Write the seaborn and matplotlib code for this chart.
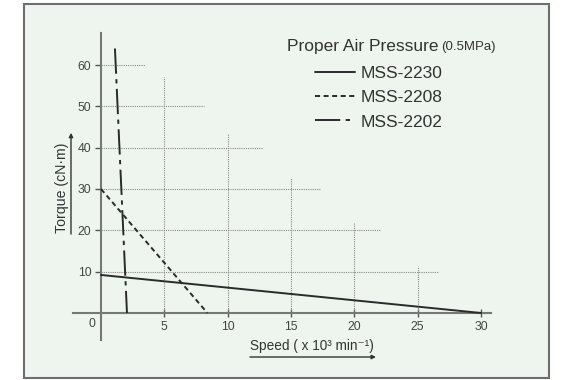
import pandas as pd
import matplotlib
matplotlib.use('Agg')
import matplotlib.pyplot as plt
from matplotlib.patches import Rectangle, FancyArrowPatch
import seaborn as sns

# torque vs speed lines (speed x10^3 min^-1, torque cN.m)
models = ['MSS-2230', 'MSS-2208', 'MSS-2202']
speed_2230 = [0, 30]
torque_2230 = [9.2, 0]
speed_2208 = [0, 8.4]
torque_2208 = [30, 0]
speed_2202 = [1.1, 2.05]
torque_2202 = [64, 0]

x_ticks = [5, 10, 15, 20, 25, 30]
y_ticks = [10, 20, 30, 40, 50, 60]
# dotted guide lines stop at different lengths (staircase)
h_grid_end = [26.6, 22.0, 17.4, 12.8, 8.1, 3.5]
v_grid_end = [57, 43.3, 32.7, 22.1, 11.4]

df = pd.concat([
    pd.DataFrame({'speed': speed_2230, 'torque': torque_2230, 'model': models[0]}),
    pd.DataFrame({'speed': speed_2208, 'torque': torque_2208, 'model': models[1]}),
    pd.DataFrame({'speed': speed_2202, 'torque': torque_2202, 'model': models[2]}),
])

sns.set_style('white')
plt.rcParams['font.family'] = ['Liberation Sans', 'DejaVu Sans']

W, H = 575, 380
fig = plt.figure(figsize=(W / 100, H / 100), dpi=100)
fig.patch.set_facecolor('white')

# outer panel
fl, fb, fw, fh = 24 / W, 2 / H, 525 / W, 374 / H
fig.patches.append(Rectangle((fl, fb), fw, fh, transform=fig.transFigure,
                             facecolor='#eef5ee', edgecolor='#6e6e6e', lw=1.5, zorder=-5))

ax = fig.add_axes([fl, fb, fw, fh])
ax.set_facecolor('none')
ax.set_xlim(-6.08, 35.37)
ax.set_ylim(-15.73, 74.76)

ink = '#2a2a2a'
axis_c = '#777777'
grid_c = '#8a8a8a'

# dotted guides
for y, xe in zip(y_ticks, h_grid_end):
    ax.plot([0, xe], [y, y], ls=(0, (1, 1)), lw=0.8, color=grid_c, zorder=1)
for x, ye in zip(x_ticks[:-1], v_grid_end):
    ax.plot([x, x], [0, ye], ls=(0, (1, 1)), lw=0.8, color=grid_c, zorder=1)

sns.lineplot(data=df, x='speed', y='torque', style='model', color=ink,
             dashes={'MSS-2230': '', 'MSS-2208': (2.6, 1.8), 'MSS-2202': (13, 2.8, 2.2, 2.8)},
             lw=1.4, ax=ax, sort=False, estimator=None, zorder=3)

for s in ['top', 'right']:
    ax.spines[s].set_visible(False)
for s in ['left', 'bottom']:
    ax.spines[s].set_position(('data', 0))
    ax.spines[s].set_color(axis_c)
    ax.spines[s].set_linewidth(1.5)
ax.spines['left'].set_bounds(-6.5, 67.7)
ax.spines['bottom'].set_bounds(-2.2, 30.8)

ax.set_xticks(x_ticks)
ax.set_yticks(y_ticks)
ax.tick_params(axis='x', direction='inout', length=6, width=1, color='#555555',
               labelsize=8.8, labelcolor='#444444', pad=3)
ax.tick_params(axis='y', direction='out', length=4, width=1, color='#555555',
               labelsize=8.8, labelcolor='#444444', pad=3)
ax.tick_params(left=True, bottom=True)
ax.set_xlabel('')
ax.set_ylabel('')
ax.text(-0.71, -2.66, '0', ha='center', va='center', fontsize=8.8, color='#444444')

# axis titles, underlined with arrows
ax.text(-3.08, 30.4, 'Torque (cN·m)', rotation=90, ha='center', va='center',
        fontsize=10.2, color='#333333')
ax.add_patch(FancyArrowPatch((-2.37, 19.1), (-2.37, 43.6), arrowstyle='-|>', lw=1,
                             color='#333333', mutation_scale=6, shrinkA=0, shrinkB=0))
ax.text(11.76, -7.98, 'Speed ( x 10³ min⁻¹)', ha='left', va='center',
        fontsize=9.8, color='#333333')
ax.add_patch(FancyArrowPatch((11.76, -10.65), (21.71, -10.65), arrowstyle='-|>', lw=1,
                             color='#333333', mutation_scale=6, shrinkA=0, shrinkB=0))

# legend
handles, labels = ax.get_legend_handles_labels()
ax.legend(handles, labels, loc='upper left', bbox_to_anchor=(315 / W, 1 - 66 / H),
          bbox_transform=fig.transFigure, frameon=False, fontsize=12.5,
          handlelength=2.3, handletextpad=0.3, labelspacing=0.52,
          borderpad=0, borderaxespad=0, labelcolor='#333333')
t = fig.text(287 / W, 1 - 46 / H, 'Proper Air Pressure', ha='left', va='center',
             fontsize=12.5, color='#333333')
ax.annotate('(0.5MPa)', xy=(1, 0), xycoords=t, xytext=(2, 0.5),
            textcoords='offset points', ha='left', va='bottom', fontsize=9.5, color='#333333')

fig.savefig('out.png', dpi=100)
